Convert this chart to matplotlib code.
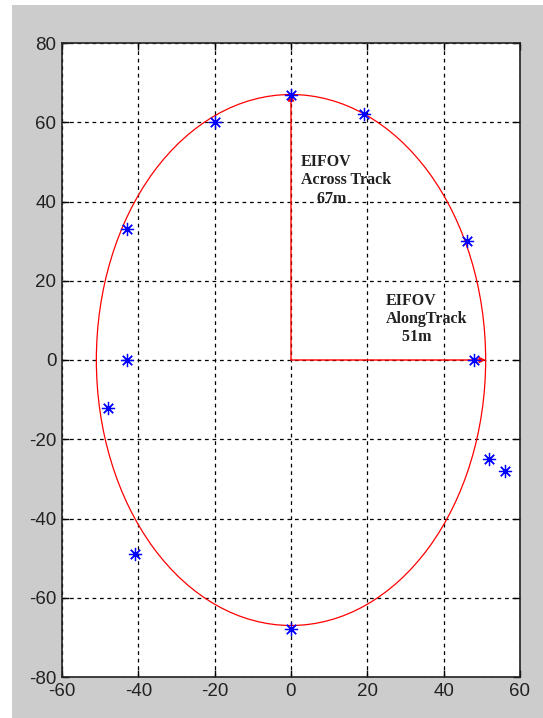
import numpy as np
import matplotlib
matplotlib.use("Agg")
import matplotlib.pyplot as plt
from matplotlib.patches import Ellipse, Rectangle

# data
pts_x = [0, 19, -20, -43, 46, -43, 48, -48, 52, 56, -41, 0]
pts_y = [67, 62, 60, 33, 30, 0, 0, -12, -25, -28, -49, -68]
along_track = 51
across_track = 67
xticks = [-60, -40, -20, 0, 20, 40, 60]
yticks = [-80, -60, -40, -20, 0, 20, 40, 60, 80]
label_across = "EIFOV\nAcross Track\n    67m"
label_along = "EIFOV\nAlongTrack\n    51m"

fig = plt.figure(figsize=(5.43, 7.18), dpi=100)
fig.patch.set_facecolor("white")
fig.patches.append(Rectangle((12/543, 0), 1 - 12/543, 1 - 5/718,
                             transform=fig.transFigure, facecolor="#cccccc",
                             edgecolor="none", zorder=-10))

ax = fig.add_axes([62/543, 1 - 677/718, (520 - 62)/543, (677 - 43)/718])
ax.set_facecolor("white")
ax.set_xlim(-60, 60)
ax.set_ylim(-80, 80)
ax.set_xticks(xticks)
ax.set_yticks(yticks)
tickfont = ['Liberation Sans', 'DejaVu Sans']
ax.set_xticklabels([str(v) for v in xticks], family=tickfont, fontsize=13.5, color="#222222")
ax.set_yticklabels([str(v) for v in yticks], family=tickfont, fontsize=13.5, color="#222222")
ax.tick_params(direction="in", length=5, width=1, top=True, right=True, pad=4)
ax.grid(True, color="black", linestyle=(0, (3, 3)), linewidth=0.9)
for s in ax.spines.values():
    s.set_linewidth(1.2)
    s.set_color("#222222")

ell = Ellipse((0, 0), 2 * along_track, 2 * across_track, fill=False,
              edgecolor="red", linewidth=0.9, zorder=3)
ax.add_patch(ell)

arrow = dict(arrowstyle="-|>", color="red", lw=1.0, mutation_scale=9,
             shrinkA=0, shrinkB=0)
ax.annotate("", xy=(along_track, 0), xytext=(0, 0), arrowprops=arrow, zorder=3)
ax.annotate("", xy=(0, across_track), xytext=(0, 0), arrowprops=arrow, zorder=3)

ax.plot(pts_x, pts_y, linestyle="none", marker=(8, 2, 0), markersize=9.5,
        markeredgecolor="blue", markerfacecolor="blue", markeredgewidth=0.9, zorder=4)

tf = dict(family=["Liberation Serif", "DejaVu Serif"], fontweight="bold",
          fontsize=11.5, color="#222222", va="top", ha="left", linespacing=1.2)
ax.text(2.6, 52, label_across, **tf)
ax.text(24.8, 17, label_along, **tf)

fig.savefig("out.png", dpi=100)
